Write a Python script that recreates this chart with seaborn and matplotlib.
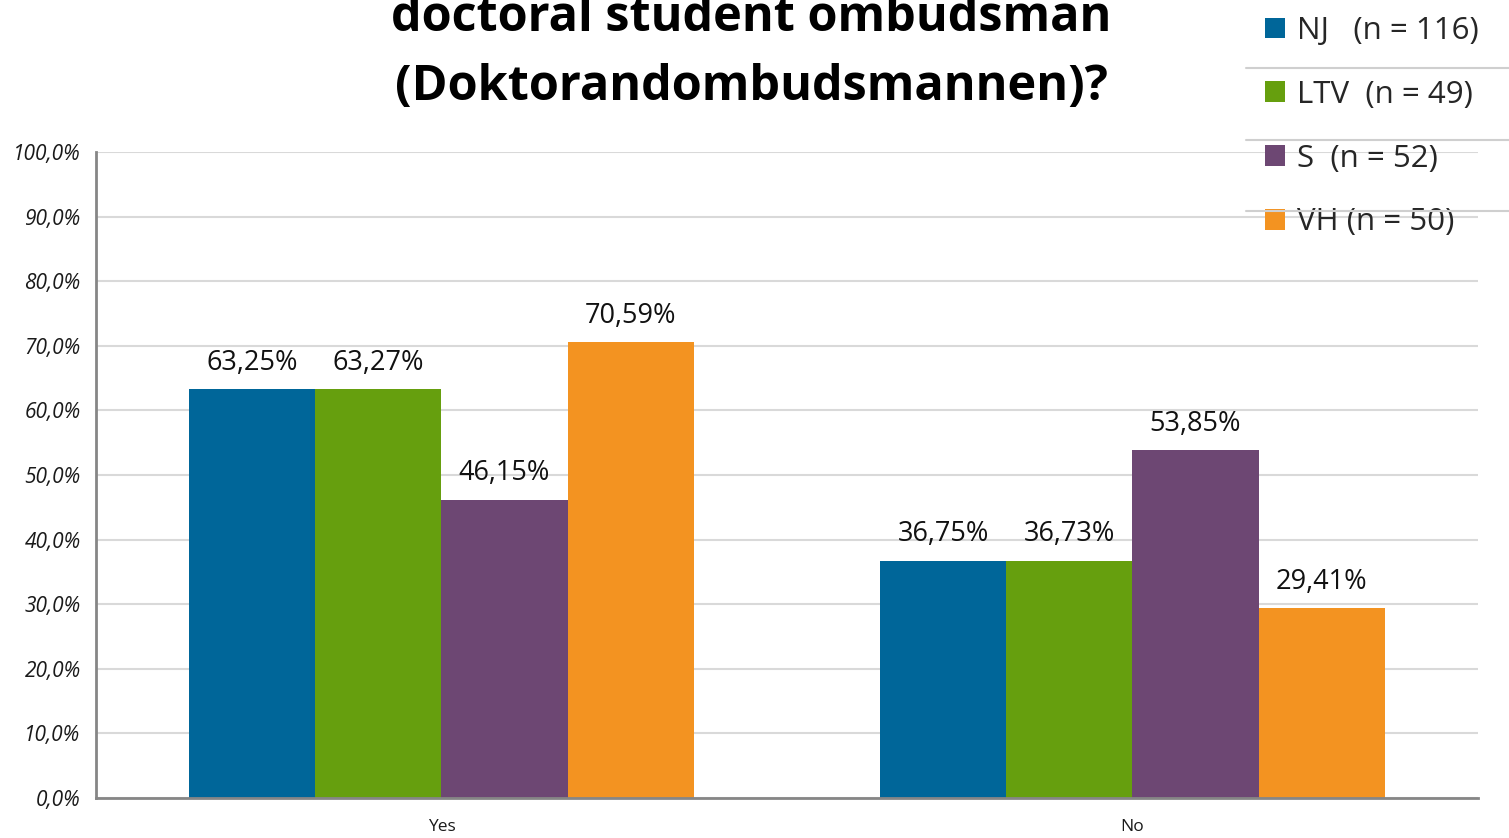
import pandas as pd
import seaborn as sns
import matplotlib.pyplot as plt
from matplotlib.lines import Line2D

# data
answers = ["Yes", "No"]
groups = ["NJ   (n = 116)", "LTV  (n = 49)", "S  (n = 52)", "VH (n = 50)"]
yes_values = [63.25, 63.27, 46.15, 70.59]
no_values = [36.75, 36.73, 53.85, 29.41]
colors = ["#006699", "#669f0e", "#6d4773", "#f39321"]
title_lines = ["doctoral student ombudsman", "(Doktorandombudsmannen)?"]

df = pd.DataFrame({
    "answer": [a for a in answers for _ in groups],
    "group": groups * len(answers),
    "value": yes_values + no_values,
})

sns.set_style("white")
plt.rcParams["font.family"] = ["Open Sans", "DejaVu Sans"]

fig = plt.figure(figsize=(15.09, 8.38), dpi=100)
ax = fig.add_axes([0.0636, 0.0477, 0.9158, 0.7709])

sns.barplot(data=df, x="answer", y="value", hue="group", palette=colors,
            width=0.73, saturation=1, gap=0, ax=ax, legend=True,
            linewidth=0, errorbar=None)

# value labels above bars
for cont in ax.containers:
    labels = [f"{b.get_height():.2f}%".replace(".", ",") for b in cont]
    ax.bar_label(cont, labels=labels, padding=9, fontsize=19.5, color="#111111")

ax.set_ylim(0, 100)
ax.set_xlim(-0.5, 1.5)
ax.set_yticks(range(0, 101, 10))
ax.set_yticklabels([f"{v},0%" for v in range(0, 101, 10)], fontsize=15,
                   style="italic", color="#1a1a1a")
ax.tick_params(axis="y", length=6, width=1.5, color="#868686", pad=5)
ax.set_xticks([0, 1])
ax.set_xticklabels(answers, fontsize=12.5, color="#1a1a1a")
ax.tick_params(axis="x", length=0, pad=15)
ax.set_xticks([-0.5, 0.5, 1.5], minor=True)
ax.tick_params(axis="x", which="minor", length=12, width=1.5, color="#868686",
               direction="inout")
ax.set_xlabel("")
ax.set_ylabel("")
ax.grid(axis="y", color="#d9d9d9", linewidth=1.5)
ax.set_axisbelow(True)
for side in ["top", "right"]:
    ax.spines[side].set_visible(False)
for side in ["left", "bottom"]:
    ax.spines[side].set_color("#868686")
    ax.spines[side].set_linewidth(2)

# legend at top right, no frame
handles, labels = ax.get_legend_handles_labels()
ax.legend(handles, labels, loc="upper left", bbox_to_anchor=(0.8235, 1.007),
          bbox_transform=fig.transFigure, frameon=False, fontsize=22.5,
          handlelength=0.65, handleheight=0.65, handletextpad=0.4,
          labelspacing=1.08, borderaxespad=0.3)
for yy in [1 - 68 / 838, 1 - 140 / 838, 1 - 211 / 838]:
    fig.add_artist(Line2D([0.826, 1.0], [yy, yy], color="#cfcfcf",
                          linewidth=1.5, transform=fig.transFigure))

# title (top line runs off the canvas as in the original)
for line, base in zip(title_lines, [31, 100]):
    fig.text(0.498, 1 - base / 838, line, ha="center", va="baseline",
             fontsize=35, fontweight="bold", color="black")

fig.savefig("out.png", dpi=100)
